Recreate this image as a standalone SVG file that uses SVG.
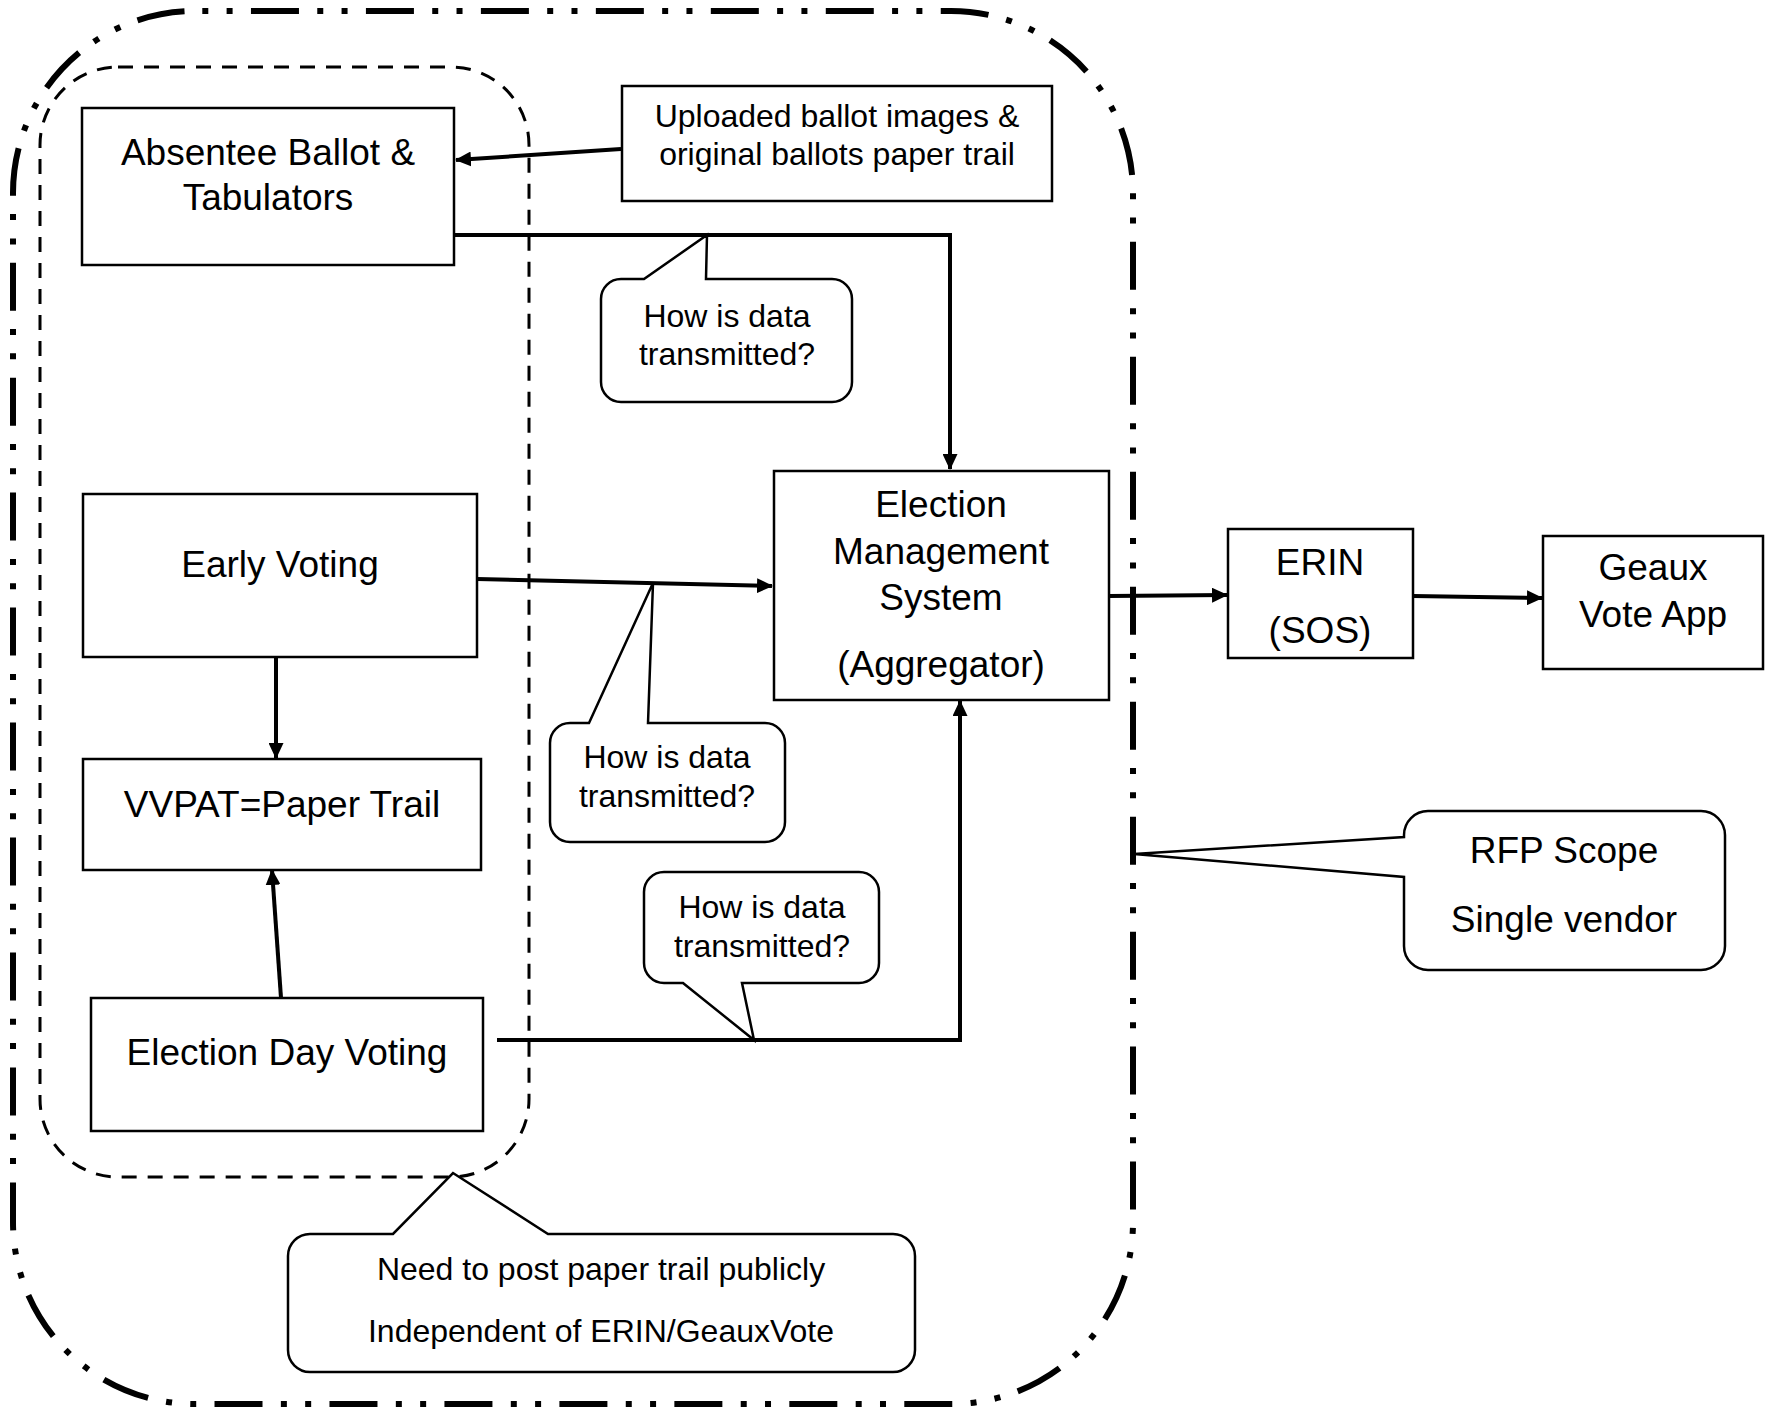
<svg xmlns="http://www.w3.org/2000/svg" width="1768" height="1407" viewBox="0 0 1768 1407">
  <style>
    .node { fill: #fff; stroke: #000; stroke-width: 2.5; }
    .callout { fill: #fff; stroke: #000; stroke-width: 2.5; stroke-linejoin: miter; }
    .t37 { font-family: "Liberation Sans", Arial, sans-serif; font-size: 37px; fill: #000; text-anchor: middle; }
    .t32 { font-family: "Liberation Sans", Arial, sans-serif; font-size: 32px; fill: #000; text-anchor: middle; }
    .conn { fill: none; stroke: #000; stroke-width: 4; }
  </style>
  <defs>
    <marker id="arrow" viewBox="0 0 16 15" refX="15" refY="7.5" markerWidth="16" markerHeight="15" markerUnits="userSpaceOnUse" orient="auto">
      <path d="M0,0 L16,7.5 L0,15 Z" fill="#000"/>
    </marker>
  </defs>
  <rect width="1768" height="1407" fill="#fff"/>

  <g id="boundaries">
    <rect id="rfp-scope-boundary" x="13" y="11" width="1120" height="1393" rx="182" ry="182" fill="none" stroke="#000" stroke-width="6" stroke-dasharray="48 18.3 6 18.3 6 18.364" stroke-dashoffset="59"/>
    <rect id="paper-trail-boundary" x="40" y="67" width="489" height="1110" rx="78" ry="78" fill="none" stroke="#000" stroke-width="3" stroke-dasharray="15 11"/>
  </g>

  <g id="connectors">
    <line class="conn" x1="621" y1="149" x2="456" y2="160" marker-end="url(#arrow)"/>
    <polyline class="conn" points="454,235 950,235 950,469" marker-end="url(#arrow)"/>
    <line class="conn" x1="477" y1="579" x2="772" y2="586" marker-end="url(#arrow)"/>
    <line class="conn" x1="276" y1="657" x2="276" y2="758" marker-end="url(#arrow)"/>
    <line class="conn" x1="281" y1="998" x2="272" y2="870" marker-end="url(#arrow)"/>
    <polyline class="conn" points="497,1040 960,1040 960,701" marker-end="url(#arrow)"/>
    <line class="conn" x1="1109" y1="596" x2="1227" y2="595" marker-end="url(#arrow)"/>
    <line class="conn" x1="1413" y1="596" x2="1542" y2="598" marker-end="url(#arrow)"/>
  </g>

  <g id="node-absentee">
    <rect class="node" x="82" y="108" width="372" height="157"/>
    <text class="t37" x="268" y="165">Absentee Ballot &amp;</text>
    <text class="t37" x="268" y="210">Tabulators</text>
  </g>

  <g id="node-uploaded">
    <rect class="node" x="622" y="86" width="430" height="115"/>
    <text class="t32" x="837" y="127">Uploaded ballot images &amp;</text>
    <text class="t32" x="837" y="165">original ballots paper trail</text>
  </g>

  <g id="node-early-voting">
    <rect class="node" x="83" y="494" width="394" height="163"/>
    <text class="t37" x="280" y="577">Early Voting</text>
  </g>

  <g id="node-vvpat">
    <rect class="node" x="83" y="759" width="398" height="111"/>
    <text class="t37" x="282" y="817">VVPAT=Paper Trail</text>
  </g>

  <g id="node-election-day">
    <rect class="node" x="91" y="998" width="392" height="133"/>
    <text class="t37" x="287" y="1065">Election Day Voting</text>
  </g>

  <g id="node-ems">
    <rect class="node" x="774" y="471" width="335" height="229"/>
    <text class="t37" x="941" y="517">Election</text>
    <text class="t37" x="941" y="564">Management</text>
    <text class="t37" x="941" y="610">System</text>
    <text class="t37" x="941" y="677">(Aggregator)</text>
  </g>

  <g id="node-erin">
    <rect class="node" x="1228" y="529" width="185" height="129"/>
    <text class="t37" x="1320" y="575">ERIN</text>
    <text class="t37" x="1320" y="643">(SOS)</text>
  </g>

  <g id="node-geaux">
    <rect class="node" x="1543" y="536" width="220" height="133"/>
    <text class="t37" x="1653" y="580">Geaux</text>
    <text class="t37" x="1653" y="627">Vote App</text>
  </g>

  <g id="callout-transmit-1">
    <path class="callout" d="M621,279 L644,279 L707,235 L706,279 L832,279 A20,20 0 0 1 852,299 L852,382 A20,20 0 0 1 832,402 L621,402 A20,20 0 0 1 601,382 L601,299 A20,20 0 0 1 621,279 Z"/>
    <text class="t32" x="727" y="327">How is data</text>
    <text class="t32" x="727" y="365">transmitted?</text>
  </g>

  <g id="callout-transmit-2">
    <path class="callout" d="M570,723 L589,723 L653,583 L648,723 L765,723 A20,20 0 0 1 785,743 L785,822 A20,20 0 0 1 765,842 L570,842 A20,20 0 0 1 550,822 L550,743 A20,20 0 0 1 570,723 Z"/>
    <text class="t32" x="667" y="768">How is data</text>
    <text class="t32" x="667" y="807">transmitted?</text>
  </g>

  <g id="callout-transmit-3">
    <path class="callout" d="M664,872 L859,872 A20,20 0 0 1 879,892 L879,963 A20,20 0 0 1 859,983 L742,983 L754,1040 L683,983 L664,983 A20,20 0 0 1 644,963 L644,892 A20,20 0 0 1 664,872 Z"/>
    <text class="t32" x="762" y="918">How is data</text>
    <text class="t32" x="762" y="957">transmitted?</text>
  </g>

  <g id="callout-rfp">
    <path class="callout" d="M1428,811 L1701,811 A24,24 0 0 1 1725,835 L1725,946 A24,24 0 0 1 1701,970 L1428,970 A24,24 0 0 1 1404,946 L1404,877 L1134,854 L1404,837 L1404,835 A24,24 0 0 1 1428,811 Z"/>
    <text class="t37" x="1564" y="863">RFP Scope</text>
    <text class="t37" x="1564" y="932">Single vendor</text>
  </g>

  <g id="callout-paper-trail">
    <path class="callout" d="M310,1234 L393,1234 L453,1173 L548,1234 L893,1234 A22,22 0 0 1 915,1256 L915,1350 A22,22 0 0 1 893,1372 L310,1372 A22,22 0 0 1 288,1350 L288,1256 A22,22 0 0 1 310,1234 Z"/>
    <text class="t32" x="601" y="1280">Need to post paper trail publicly</text>
    <text class="t32" x="601" y="1342">Independent of ERIN/GeauxVote</text>
  </g>
</svg>
